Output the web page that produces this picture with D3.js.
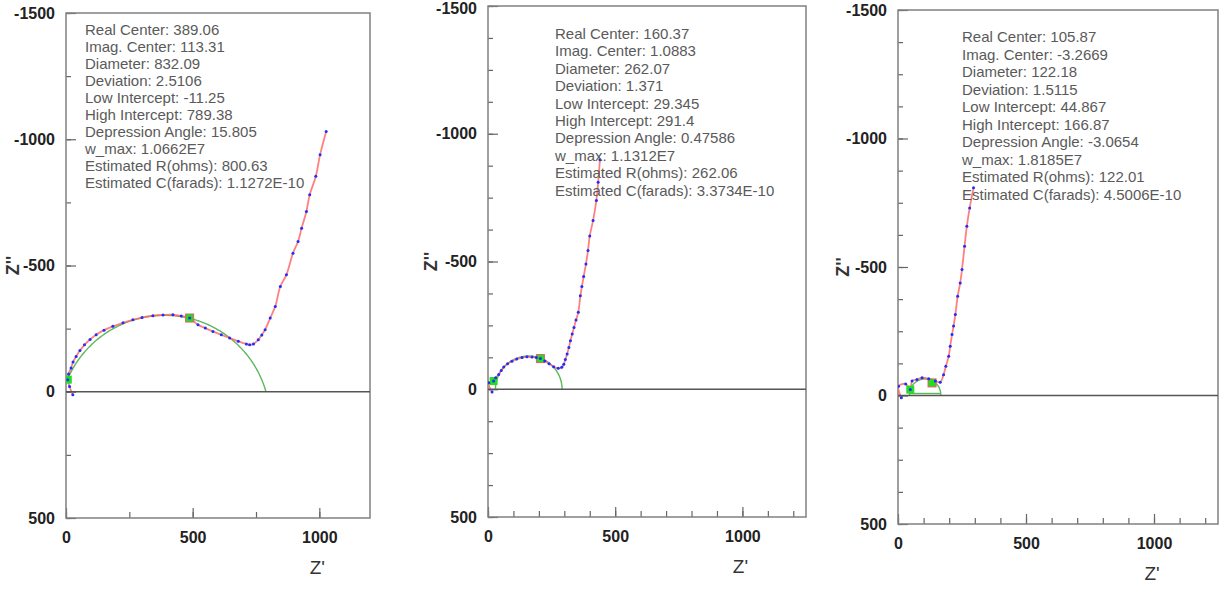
<!DOCTYPE html>
<html>
<head>
<meta charset="utf-8">
<script src="https://cdn.jsdelivr.net/npm/d3@7"></script>
<style>
  body { margin: 0; background: #fff; }
  svg { display: block; }
</style>
</head>
<body>
<svg id="chart" width="1225" height="592"></svg>
<script>
// impedance data, [Z', Z''] pairs
var p1Data = [[27,12],[14,-21],[7,-48],[10,-70],[20,-94],[28,-118],[40,-140],[55,-163],[73,-186],[95,-207],[119,-226],
  [150,-244],[185,-259],[225,-273],[264,-285],[300,-294],[343,-301],[383,-304],[422,-305],[455,-300],[488,-292],
  [521,-265],[550,-252],[580,-239],[613,-226],[646,-213],[680,-200],[712,-189],[725,-186],[740,-189],[759,-206],
  [773,-225],[786,-246],[806,-292],[826,-338],[846,-417],[870,-463],[896,-549],[916,-595],[930,-648],[949,-714],
  [962,-780],[986,-853],[1003,-939],[1027,-1031]];
var p2Data = [[16,11],[3,-25],[22,-32],[30,-45],[42,-58],[52,-73],[62,-87],[77,-100],[94,-110],[113,-118],[134,-124],
  [153,-127],[173,-126],[190,-124],[206,-120],[223,-111],[240,-100],[258,-88],[276,-82],[290,-86],[298,-98],
  [304,-116],[311,-138],[318,-163],[324,-190],[331,-216],[338,-242],[346,-271],[355,-301],[363,-366],[369,-402],
  [376,-441],[385,-490],[393,-543],[400,-600],[413,-660],[426,-739],[433,-810],[440,-898]];
var p3Data = [[13,9],[2,-36],[30,-45],[48,-23],[55,-56],[74,-62],[94,-69],[120,-65],[146,-56],[165,-52],[178,-81],
  [187,-114],[198,-153],[204,-192],[211,-237],[217,-270],[224,-315],[233,-386],[243,-438],[250,-490],[260,-581],
  [269,-659],[280,-730],[295,-808]];

// circle fit: real center, imag center, diameter
var p1Fit = [389.06, 113.31, 832.09];
var p2Fit = [160.37, 1.0883, 262.07];
var p3Fit = [105.87, -3.2669, 122.18];

// selected fit range end points
var p1Marks = [[7,-48],[488,-292]];
var p2Marks = [[22,-32],[206,-120]];
var p3Marks = [[48,-23],[133,-49]];

var p1Text = ["Real Center: 389.06", "Imag. Center: 113.31", "Diameter: 832.09", "Deviation: 2.5106",
  "Low Intercept: -11.25", "High Intercept: 789.38", "Depression Angle: 15.805", "w_max: 1.0662E7",
  "Estimated R(ohms): 800.63", "Estimated C(farads): 1.1272E-10"];
var p2Text = ["Real Center: 160.37", "Imag. Center: 1.0883", "Diameter: 262.07", "Deviation: 1.371",
  "Low Intercept: 29.345", "High Intercept: 291.4", "Depression Angle: 0.47586", "w_max: 1.1312E7",
  "Estimated R(ohms): 262.06", "Estimated C(farads): 3.3734E-10"];
var p3Text = ["Real Center: 105.87", "Imag. Center: -3.2669", "Diameter: 122.18", "Deviation: 1.5115",
  "Low Intercept: 44.867", "High Intercept: 166.87", "Depression Angle: -3.0654", "w_max: 1.8185E7",
  "Estimated R(ohms): 122.01", "Estimated C(farads): 4.5006E-10"];

var yMajor = [-1500, -1000, -500, 0, 500];
var xMajor = [0, 500, 1000];

var panels = [
  { data: p1Data, fit: p1Fit, marks: p1Marks, text: p1Text, xMax: 1200, xMinorStep: 250, yMinorStep: 250,
    box: { l: 66, t: 13, r: 370, b: 518 }, tx: 85, ty: 35, dy: 17.0, zx: 53, chord: false },
  { data: p2Data, fit: p2Fit, marks: p2Marks, text: p2Text, xMax: 1250, xMinorStep: 100, yMinorStep: 125,
    box: { l: 488, t: 6, r: 806, b: 517 }, tx: 555, ty: 39, dy: 17.4, zx: 57, chord: false },
  { data: p3Data, fit: p3Fit, marks: p3Marks, text: p3Text, xMax: 1250, xMinorStep: 100, yMinorStep: 125,
    box: { l: 898, t: 10, r: 1218, b: 524 }, tx: 962, ty: 42, dy: 17.5, zx: 55, chord: true }
];

var font = "Liberation Sans, Arial, sans-serif";
var svg = d3.select("#chart");

function styleTicks(a, labels) {
  a.select(".domain").remove();
  a.selectAll("line").attr("stroke", "#666").attr("stroke-width", 1.2);
  if (labels) {
    a.selectAll("text").attr("font-family", font)
      .attr("font-size", 16).attr("font-weight", "bold").attr("fill", "#222");
  }
}

panels.forEach(function(p, i) {
  var b = p.box;
  var x = d3.scaleLinear().domain([0, p.xMax]).range([b.l, b.r]);
  var y = d3.scaleLinear().domain([-1500, 500]).range([b.t, b.b]);
  var g = svg.append("g");

  g.append("clipPath").attr("id", "clip" + i)
    .append("rect").attr("x", b.l).attr("y", b.t).attr("width", b.r - b.l).attr("height", b.b - b.t);

  // minor ticks
  g.append("g").attr("transform", "translate(" + b.l + ",0)")
    .call(d3.axisLeft(y).tickValues(d3.range(-1500, 501, p.yMinorStep)).tickSize(-5).tickFormat(""))
    .call(styleTicks, false);
  g.append("g").attr("transform", "translate(0," + b.b + ")")
    .call(d3.axisBottom(x).tickValues(d3.range(0, p.xMax + 1, p.xMinorStep)).tickSize(-6).tickFormat(""))
    .call(styleTicks, false);

  // major ticks with labels
  var yAx = g.append("g").attr("transform", "translate(" + b.l + ",0)")
    .call(d3.axisLeft(y).tickValues(yMajor).tickSize(-10).tickPadding(11).tickFormat(function(d) { return String(d); }))
    .call(styleTicks, true);
  // keep the top label inside the page
  yAx.selectAll(".tick text").attr("dy", function(d) { return y(d) < 9 ? "0.45em" : "0.32em"; });
  g.append("g").attr("transform", "translate(0," + b.b + ")")
    .call(d3.axisBottom(x).tickValues(xMajor).tickSize(-10).tickPadding(14).tickFormat(function(d) { return String(d); }))
    .call(styleTicks, true);

  // frame
  g.append("rect").attr("x", b.l).attr("y", b.t).attr("width", b.r - b.l).attr("height", b.b - b.t)
    .attr("fill", "none").attr("stroke", "#808080").attr("stroke-width", 1.5);

  var plot = g.append("g").attr("clip-path", "url(#clip" + i + ")");
  var line = d3.line().x(function(d) { return x(d[0]); }).y(function(d) { return y(d[1]); });

  // fitted circle arc, from low intercept over the top to high intercept
  var cx = p.fit[0], cy = p.fit[1], r = p.fit[2] / 2;
  var h = Math.sqrt(r * r - cy * cy);
  var aStart = Math.PI - Math.asin(-cy / r), aEnd = 2 * Math.PI + Math.asin(-cy / r);
  var arcPts = d3.range(0, 201).map(function(k) {
    var a = aStart + (aEnd - aStart) * k / 200;
    return [cx + r * Math.cos(a), cy + r * Math.sin(a)];
  });
  plot.append("path").attr("d", line(arcPts)).attr("fill", "none")
    .attr("stroke", "#5cb85c").attr("stroke-width", 1.4);
  if (p.chord) {
    plot.append("line").attr("x1", x(cx - h)).attr("x2", x(cx + h))
      .attr("y1", y(0) - 2).attr("y2", y(0) - 2).attr("stroke", "#5cb85c").attr("stroke-width", 1.4);
  }

  // zero line
  g.append("line").attr("x1", b.l).attr("x2", b.r).attr("y1", y(0)).attr("y2", y(0))
    .attr("stroke", "#555").attr("stroke-width", 1.5);

  // line through data
  plot.append("path").attr("d", line.curve(d3.curveCatmullRom)(p.data)).attr("fill", "none")
    .attr("stroke", "#ff6a6a").attr("stroke-width", 1.8).attr("stroke-opacity", 0.85);

  // range markers
  plot.selectAll("rect.mark").data(p.marks).enter().append("rect").attr("class", "mark")
    .attr("x", function(d) { return x(d[0]) - 4; }).attr("y", function(d) { return y(d[1]) - 4; })
    .attr("width", 8).attr("height", 8)
    .attr("fill", "#22dd22").attr("stroke", function(d, k) { return k === 1 ? "#e06060" : "none"; })
    .attr("stroke-width", 1);

  // data points
  plot.selectAll("circle").data(p.data).enter().append("circle")
    .attr("cx", function(d) { return x(d[0]); }).attr("cy", function(d) { return y(d[1]); })
    .attr("r", 1.5).attr("fill", "#1f2dff");

  // fit results text
  g.append("g").selectAll("text").data(p.text).enter().append("text")
    .attr("x", p.tx).attr("y", function(d, k) { return p.ty + k * p.dy; })
    .attr("font-family", font).attr("font-size", 15)
    .attr("fill", "#5a5a5a").text(function(d) { return d; });

  // axis titles
  g.append("text").attr("x", x(1000) - 2).attr("y", b.b + 56).attr("text-anchor", "middle")
    .attr("font-family", font).attr("font-size", 19)
    .attr("fill", "#333").text("Z'");
  g.append("text").attr("transform", "translate(" + (b.l - p.zx) + "," + (y(-500)) + ") rotate(-90)")
    .attr("text-anchor", "middle").attr("dy", "0.35em")
    .attr("font-family", font).attr("font-size", 18).attr("font-weight", "bold")
    .attr("fill", "#333").text("Z''");
});
</script>
</body>
</html>
